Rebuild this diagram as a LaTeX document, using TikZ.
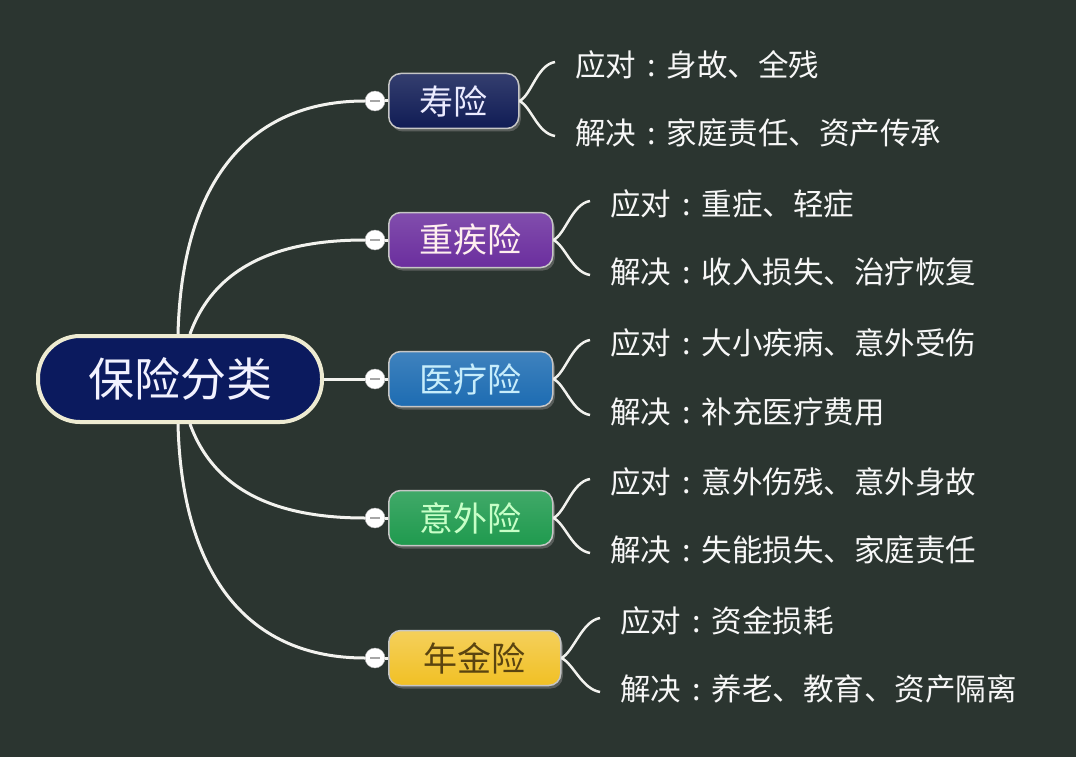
\documentclass[tikz,border=0pt]{standalone}
\usepackage{fontspec}
\setmainfont{Noto Sans CJK SC}
\usetikzlibrary{shadows}
\definecolor{bgcol}{HTML}{2B3530}
\definecolor{rootfill}{HTML}{0B1A5E}
\definecolor{rootline}{HTML}{EEEBD2}
\definecolor{shoufill}{HTML}{101C55}
\definecolor{zjfill}{HTML}{6B2E9E}
\definecolor{ylfill}{HTML}{1D6CB2}
\definecolor{ywfill}{HTML}{1F9A4E}
\definecolor{njfill}{HTML}{F1C025}
\definecolor{njtext}{HTML}{5A4410}
\definecolor{linkcol}{HTML}{F2F2EE}
\newcommand{\colonsep}{\makebox[1em]{:}}

\begin{document}
\begin{tikzpicture}[x=1pt,y=-1pt,
    branch/.style={anchor=west,draw=gray!45,line width=1.5pt,rounded corners=12pt,minimum height=55pt,inner sep=0pt,font=\fontsize{34}{38}\selectfont,drop shadow={opacity=0.55,shadow xshift=2pt,shadow yshift=-3pt}},
    fold/.style={circle,draw=gray!60,fill=white,minimum size=20pt,inner sep=0pt,path picture={\draw[gray!70,line width=1.5pt] ([xshift=-5pt]path picture bounding box.center) -- ([xshift=5pt]path picture bounding box.center);}},
    link/.style={draw=linkcol,line width=3pt},
    leaf/.style={anchor=west,text=white!94!gray,inner sep=0pt,font=\fontsize{30.5}{34}\selectfont}]
    \useasboundingbox[fill=bgcol] (0,0) rectangle (1076,757);
    \node[draw=rootline,line width=4pt,fill=rootfill,rounded corners=42pt,minimum width=284pt,minimum height=86pt,text=white!95!blue,font=\fontsize{46}{52}\selectfont] (root) at (180,379) {保险分类};
    \node[branch,top color=shoufill!85!white,bottom color=shoufill,text=white!92!blue,minimum width=130pt] (shou) at (388,101) {寿险};
    \node[branch,top color=zjfill!85!white,bottom color=zjfill,text=pink!25,minimum width=164pt] (zhongji) at (388,240) {重疾险};
    \node[branch,top color=ylfill!85!white,bottom color=ylfill,text=cyan!22,minimum width=164pt] (yiliao) at (388,379) {医疗险};
    \node[branch,top color=ywfill!85!white,bottom color=ywfill,text=green!22,minimum width=164pt] (yiwai) at (388,518) {意外险};
    \node[branch,top color=njfill!75!white,bottom color=njfill,text=njtext,minimum width=172pt] (nianjin) at (388,658) {年金险};
    \node[fold] (c1) at (375,101) {};
    \node[fold] (c2) at (375,240) {};
    \node[fold] (c3) at (375,379) {};
    \node[fold] (c4) at (375,518) {};
    \node[fold] (c5) at (375,658) {};
    \node[leaf] (shouA) at (575,65) {应对\colonsep 身故、全残};
    \node[leaf] (shouB) at (575,133) {解决\colonsep 家庭责任、资产传承};
    \node[leaf] (zhongjiA) at (610,204) {应对\colonsep 重症、轻症};
    \node[leaf] (zhongjiB) at (610,272) {解决\colonsep 收入损失、治疗恢复};
    \node[leaf] (yiliaoA) at (610,343) {应对\colonsep 大小疾病、意外受伤};
    \node[leaf] (yiliaoB) at (610,412) {解决\colonsep 补充医疗费用};
    \node[leaf] (yiwaiA) at (610,482) {应对\colonsep 意外伤残、意外身故};
    \node[leaf] (yiwaiB) at (610,550) {解决\colonsep 失能损失、家庭责任};
    \node[leaf] (nianjinA) at (620,621) {应对\colonsep 资金损耗};
    \node[leaf] (nianjinB) at (620,689) {解决\colonsep 养老、教育、资产隔离};
    \draw[link] ([xshift=-2pt]root.north) .. controls (182,180) and (250,101) .. (c1);
    \draw[link] ([xshift=10pt]root.north) .. controls (215,265) and (280,240) .. (c2);
    \draw[link] (root.east) -- (c3);
    \draw[link] ([xshift=10pt]root.south) .. controls (215,493) and (280,518) .. (c4);
    \draw[link] ([xshift=-2pt]root.south) .. controls (182,578) and (250,658) .. (c5);
    \foreach \b/\c in {shou/c1,zhongji/c2,yiliao/c3,yiwai/c4,nianjin/c5}
        \draw[link] (\c) -- (\b);
    \foreach \b in {shou,zhongji,yiliao,yiwai,nianjin}{
        \draw[link,line width=2.5pt] (\b.east) .. controls +(12,-6) and +(-18,3) .. ([xshift=-20pt,yshift=3pt]\b A.west);
        \draw[link,line width=2.5pt] (\b.east) .. controls +(12,6) and +(-18,-3) .. ([xshift=-20pt,yshift=-3pt]\b B.west);
    }
\end{tikzpicture}
\end{document}
